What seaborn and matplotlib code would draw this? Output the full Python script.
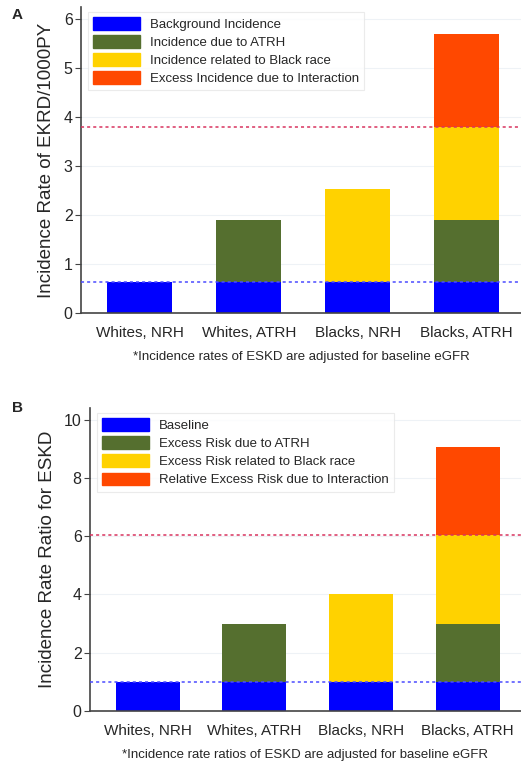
import numpy as np
import pandas as pd
import matplotlib
matplotlib.use("Agg")
import matplotlib.pyplot as plt
from matplotlib.patches import Patch
import seaborn as sns

sns.set_style("white")
plt.rcParams['font.family'] = ['Liberation Sans', 'DejaVu Sans']

# data
groups = ["Whites, NRH", "Whites, ATRH", "Blacks, NRH", "Blacks, ATRH"]

# panel A: incidence per 1000 PY (stacked components)
a_background = [0.63, 0.63, 0.63, 0.63]
a_atrh = [0.0, 1.27, 0.0, 1.27]
a_black = [0.0, 0.0, 1.90, 1.90]
a_interact = [0.0, 0.0, 0.0, 1.88]
a_labels = ["Background Incidence", "Incidence due to ATRH",
            "Incidence related to Black race", "Excess Incidence due to Interaction"]
a_ref = [0.63, 3.80]

# panel B: incidence rate ratios (stacked components)
b_baseline = [1.0, 1.0, 1.0, 1.0]
b_atrh = [0.0, 2.0, 0.0, 2.0]
b_black = [0.0, 0.0, 3.0, 3.05]
b_interact = [0.0, 0.0, 0.0, 3.0]
b_labels = ["Baseline", "Excess Risk due to ATRH",
            "Excess Risk related to Black race", "Relative Excess Risk due to Interaction"]
b_ref = [1.0, 6.05]

colors = ["#0000FF", "#556F2F", "#FFD200", "#FF4800"]


def stacked(ax, layers, labels, refs, ylim, yticks, ylabel, note):
    tops = np.cumsum(np.array(layers), axis=0)
    # draw tallest layer first so lower layers sit on top
    for k in range(len(layers) - 1, -1, -1):
        df = pd.DataFrame({"group": groups, "val": tops[k]})
        sns.barplot(data=df, x="group", y="val", color=colors[k], width=0.6,
                    saturation=1, linewidth=0, ax=ax, zorder=2)
    ax.axhline(refs[0], color="#4B4BFF", ls=(0, (2, 2)), lw=1.1, zorder=3)
    ax.axhline(refs[1], color="#D8345F", ls=(0, (2, 2)), lw=1.1, zorder=3)
    ax.set_ylim(*ylim)
    ax.set_xlim(-0.54, 3.5)
    ax.set_yticks(yticks)
    ax.yaxis.grid(True, color="#EEF2F6", lw=0.8, zorder=0)
    ax.set_axisbelow(True)
    for s in ["top", "right"]:
        ax.spines[s].set_visible(False)
    for s in ["left", "bottom"]:
        ax.spines[s].set_color("#444444")
        ax.spines[s].set_linewidth(1.2)
    ax.tick_params(axis="y", left=True, length=4, color="#444444", labelsize=11.5, pad=2)
    ax.tick_params(axis="x", bottom=False, labelsize=11, pad=6)
    ax.set_xlabel(note, fontsize=9.5, labelpad=8)
    ax.set_ylabel(ylabel, fontsize=13.5, labelpad=6)
    handles = [Patch(facecolor=c, edgecolor=c) for c in colors]
    leg = ax.legend(handles, labels, loc="upper left", bbox_to_anchor=(0.0, 1.005),
                    fontsize=9.5, handlelength=3.6, handleheight=1.1,
                    labelspacing=0.32, borderpad=0.4, handletextpad=0.7,
                    frameon=True, fancybox=False)
    leg.get_frame().set_edgecolor("#E6E6E6")
    leg.get_frame().set_linewidth(0.8)


fig = plt.figure(figsize=(5.21, 7.67), dpi=100)
ax1 = fig.add_axes([0.1555, 0.592, 0.8445, 0.399])
ax2 = fig.add_axes([0.1727, 0.073, 0.8273, 0.395])

stacked(ax1, [a_background, a_atrh, a_black, a_interact], a_labels, a_ref,
        (0, 6.24), [0, 1, 2, 3, 4, 5, 6], "Incidence Rate of EKRD/1000PY",
        "*Incidence rates of ESKD are adjusted for baseline eGFR")
stacked(ax2, [b_baseline, b_atrh, b_black, b_interact], b_labels, b_ref,
        (0, 10.4), [0, 2, 4, 6, 8, 10], "Incidence Rate Ratio for ESKD",
        "*Incidence rate ratios of ESKD are adjusted for baseline eGFR")

fig.text(12 / 521, 1 - 15 / 767, "A", fontsize=11, fontweight="bold", va="center")
fig.text(12 / 521, 1 - 408 / 767, "B", fontsize=11, fontweight="bold", va="center")

fig.savefig("out.png", dpi=100)
